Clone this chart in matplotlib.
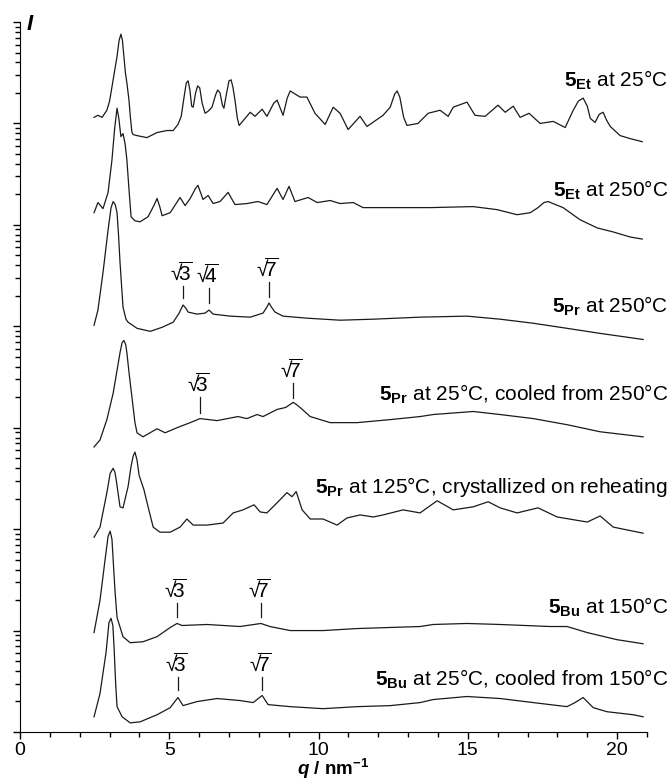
import numpy as np
import matplotlib
matplotlib.use('Agg')
import matplotlib.pyplot as plt
from matplotlib.ticker import LogLocator, NullFormatter, MultipleLocator

plt.rcParams['font.family'] = 'Liberation Sans'
plt.rcParams['mathtext.fontset'] = 'custom'
plt.rcParams['mathtext.rm'] = 'Liberation Sans'
plt.rcParams['mathtext.it'] = 'Liberation Sans:italic'
plt.rcParams['mathtext.bf'] = 'Liberation Sans:bold'
plt.rcParams['mathtext.bfit'] = 'Liberation Sans:italic:bold'

# q in nm^-1, intensities as log10(I) (stacked, arbitrary units)
q_et25 = [2.48, 2.61, 2.75, 2.91, 3.00, 3.08, 3.17, 3.25, 3.32, 3.38, 3.43, 3.48, 3.53, 3.58, 3.65,
          3.70, 3.75, 3.79, 3.92, 4.25, 4.59, 4.92, 5.13, 5.29, 5.40, 5.50, 5.57, 5.63, 5.69, 5.75,
          5.80, 5.88, 5.95, 6.02, 6.10, 6.20, 6.30, 6.43, 6.55, 6.62, 6.70, 6.78, 6.83, 6.92, 7.00,
          7.07, 7.13, 7.20, 7.28, 7.34, 7.71, 7.87, 8.11, 8.27, 8.50, 8.61, 8.81, 8.95, 9.05, 9.38,
          9.61, 9.88, 10.22, 10.49, 10.72, 10.99, 11.39, 11.62, 12.16, 12.40, 12.55, 12.63, 12.72,
          12.85, 12.96, 13.33, 13.67, 14.07, 14.34, 14.51, 14.97, 15.24, 15.58, 16.01, 16.25, 16.52,
          16.75, 17.05, 17.42, 17.86, 18.26, 18.53, 18.70, 18.86, 19.00, 19.10, 19.26, 19.40, 19.53,
          19.65, 19.77, 20.10, 20.44, 20.84]
logI_et25 = [6.06, 6.08, 6.06, 6.13, 6.22, 6.36, 6.52, 6.66, 6.82, 6.88, 6.82, 6.66, 6.50, 6.40, 6.23,
             6.05, 5.91, 5.89, 5.88, 5.86, 5.91, 5.93, 5.93, 5.99, 6.07, 6.27, 6.40, 6.42, 6.33, 6.17,
             6.16, 6.30, 6.37, 6.35, 6.20, 6.10, 6.12, 6.16, 6.28, 6.33, 6.30, 6.18, 6.15, 6.30, 6.42,
             6.43, 6.36, 6.23, 6.05, 5.98, 6.11, 6.07, 6.14, 6.07, 6.20, 6.23, 6.08, 6.25, 6.32, 6.26,
             6.26, 6.10, 5.99, 6.16, 6.10, 5.94, 6.07, 5.97, 6.08, 6.16, 6.29, 6.32, 6.26,
             6.06, 5.98, 6.00, 6.10, 6.13, 6.07, 6.16, 6.21, 6.08, 6.07, 6.18, 6.11, 6.17,
             6.06, 6.10, 6.00, 6.02, 5.96, 6.13, 6.22, 6.25, 6.17, 6.05, 6.01, 6.09, 6.11,
             6.03, 5.97, 5.88, 5.85, 5.82]

q_et250 = [2.48, 2.61, 2.78, 2.95, 3.08, 3.17, 3.25, 3.31, 3.38, 3.45, 3.52, 3.58, 3.65, 3.72, 3.85,
           4.02, 4.29, 4.50, 4.59, 4.68, 4.76, 5.03, 5.36, 5.53, 5.70, 5.88, 5.96, 6.13, 6.30, 6.47,
           6.70, 6.97, 7.20, 7.60, 7.97, 8.27, 8.61, 8.81, 9.01, 9.21, 9.65, 9.95, 10.39, 10.72,
           11.16, 11.49, 12.63, 13.74, 15.18, 15.98, 16.65, 17.09, 17.35, 17.55, 17.69, 17.85,
           18.19, 18.76, 19.33, 19.87, 20.44, 20.84]
logI_et250 = [5.12, 5.22, 5.16, 5.32, 5.64, 5.95, 6.15, 6.05, 5.87, 5.90, 5.80, 5.64, 5.35, 5.08, 5.04,
              5.03, 5.08, 5.20, 5.26, 5.18, 5.09, 5.12, 5.27, 5.19, 5.26, 5.36, 5.39, 5.25, 5.29, 5.21,
              5.23, 5.32, 5.20, 5.21, 5.23, 5.20, 5.36, 5.25, 5.38, 5.23, 5.27, 5.22, 5.24, 5.21,
              5.22, 5.17, 5.17, 5.17, 5.18, 5.15, 5.10, 5.12, 5.17, 5.22, 5.23, 5.21,
              5.17, 5.05, 4.97, 4.93, 4.88, 4.86]

q_pr250 = [2.48, 2.61, 2.78, 2.95, 3.05, 3.12, 3.19, 3.25, 3.30, 3.35, 3.45, 3.55, 3.62, 3.92, 4.36,
           4.76, 5.13, 5.33, 5.46, 5.55, 5.63, 5.93, 6.20, 6.33, 6.47, 7.04, 7.71, 8.14, 8.27, 8.34,
           8.42, 8.54, 8.81, 9.61, 10.72, 11.83, 13.40, 14.97, 16.08, 17.19, 18.32, 19.43, 20.87]
logI_pr250 = [4.01, 4.16, 4.53, 4.95, 5.17, 5.23, 5.20, 5.12, 4.90, 4.63, 4.19, 4.07, 4.04, 3.98, 3.95,
              3.99, 4.04, 4.13, 4.21, 4.18, 4.14, 4.12, 4.13, 4.16, 4.12, 4.10, 4.09, 4.13, 4.19, 4.23,
              4.19, 4.14, 4.10, 4.08, 4.06, 4.07, 4.09, 4.10, 4.07, 4.03, 3.98, 3.93, 3.87]

q_pr25 = [2.48, 2.68, 2.91, 3.12, 3.35, 3.42, 3.48, 3.54, 3.58, 3.66, 3.75, 3.85, 3.92, 4.12, 4.59,
          4.86, 5.26, 5.70, 6.03, 6.60, 7.30, 7.60, 7.94, 8.14, 8.61, 8.90, 9.05, 9.15, 9.25, 9.38,
          9.72, 10.39, 11.29, 12.40, 13.40, 13.84, 15.18, 16.08, 17.19, 18.32, 19.43, 20.87]
logI_pr25 = [2.81, 2.88, 3.08, 3.34, 3.74, 3.84, 3.86, 3.82, 3.74, 3.52, 3.30, 3.05, 2.95, 2.91, 2.99,
             2.95, 3.00, 3.05, 3.09, 3.07, 3.11, 3.09, 3.13, 3.11, 3.18, 3.20, 3.23, 3.25, 3.23, 3.20,
             3.11, 3.05, 3.05, 3.08, 3.11, 3.13, 3.16, 3.13, 3.09, 3.03, 2.96, 2.91]

q_pr125 = [2.48, 2.68, 2.91, 3.02, 3.12, 3.18, 3.22, 3.35, 3.45, 3.62, 3.72, 3.79, 3.85, 3.92, 3.99,
           4.15, 4.29, 4.46, 4.69, 5.03, 5.36, 5.59, 5.80, 6.26, 6.80, 7.14, 7.47, 7.84, 8.04, 8.27,
           8.61, 8.94, 9.11, 9.25, 9.45, 9.72, 10.15, 10.62, 10.95, 11.39, 11.83, 12.16, 12.83, 13.40,
           13.97, 14.51, 15.18, 15.68, 16.08, 16.65, 17.35, 17.99, 19.00, 19.43, 19.87, 20.87]
logI_pr125 = [1.92, 2.02, 2.36, 2.55, 2.60, 2.56, 2.49, 2.22, 2.21, 2.42, 2.62, 2.72, 2.76, 2.68, 2.53,
              2.39, 2.22, 2.02, 1.97, 1.97, 2.02, 2.10, 2.04, 2.04, 2.06, 2.16, 2.19, 2.24, 2.17, 2.16,
              2.26, 2.36, 2.32, 2.37, 2.19, 2.10, 2.10, 2.04, 2.11, 2.14, 2.12, 2.14, 2.19, 2.16,
              2.28, 2.19, 2.22, 2.27, 2.21, 2.16, 2.21, 2.12, 2.07, 2.13, 2.02, 1.96]

q_bu150 = [2.48, 2.68, 2.85, 2.95, 3.02, 3.08, 3.12, 3.18, 3.25, 3.45, 3.69, 4.12, 4.59, 5.03, 5.26,
           5.43, 6.26, 7.37, 8.07, 8.37, 9.05, 10.15, 11.29, 13.40, 13.84, 14.97, 16.08, 17.76,
           18.32, 19.00, 20.00, 20.87]
logI_bu150 = [0.98, 1.30, 1.70, 1.93, 1.98, 1.90, 1.70, 1.40, 1.13, 0.94, 0.88, 0.89, 0.94, 1.03, 1.07,
              1.05, 1.06, 1.04, 1.07, 1.04, 1.00, 1.00, 1.02, 1.04, 1.06, 1.07, 1.06, 1.04,
              1.04, 0.98, 0.91, 0.87]

q_bu25 = [2.48, 2.68, 2.88, 2.98, 3.05, 3.11, 3.15, 3.20, 3.25, 3.42, 3.69, 4.02, 4.59, 5.03, 5.29,
          5.46, 5.93, 6.60, 7.37, 7.81, 8.11, 8.31, 9.05, 10.15, 11.29, 12.40, 13.40, 13.84, 14.97,
          16.08, 17.19, 18.32, 18.59, 18.86, 19.20, 19.66, 20.54, 20.87]
logI_bu25 = [0.15, 0.38, 0.78, 1.08, 1.12, 1.05, 0.84, 0.50, 0.25, 0.15, 0.09, 0.10, 0.17, 0.24, 0.34,
             0.26, 0.30, 0.33, 0.31, 0.29, 0.36, 0.27, 0.25, 0.23, 0.25, 0.26, 0.29, 0.32, 0.35,
             0.33, 0.29, 0.25, 0.29, 0.34, 0.24, 0.20, 0.17, 0.15]

series_q = [q_et25, q_et250, q_pr250, q_pr25, q_pr125, q_bu150, q_bu25]
series_logI = [logI_et25, logI_et250, logI_pr250, logI_pr25, logI_pr125, logI_bu150, logI_bu25]

labels = [r'$\mathbf{5}_{\mathbf{Et}}$ at 25°C',
          r'$\mathbf{5}_{\mathbf{Et}}$ at 250°C',
          r'$\mathbf{5}_{\mathbf{Pr}}$ at 250°C',
          r'$\mathbf{5}_{\mathbf{Pr}}$ at 25°C, cooled from 250°C',
          r'$\mathbf{5}_{\mathbf{Pr}}$ at 125°C, crystallized on reheating',
          r'$\mathbf{5}_{\mathbf{Bu}}$ at 150°C',
          r'$\mathbf{5}_{\mathbf{Bu}}$ at 25°C, cooled from 150°C']
label_logI = [6.36, 5.28, 4.13, 3.27, 2.36, 1.17, 0.46]

# peak index marks: (q, lower end, upper end, text)
marks = [(5.46, 4.28, 4.40, '3'), (6.33, 4.23, 4.38, '4'), (8.34, 4.29, 4.44, '7'),
         (6.03, 3.15, 3.30, '3'), (9.15, 3.29, 3.44, '7'),
         (5.26, 1.13, 1.27, '3'), (8.07, 1.13, 1.27, '7'),
         (5.29, 0.41, 0.54, '3'), (8.11, 0.41, 0.54, '7')]

fig = plt.figure(figsize=(6.72, 7.81), dpi=100)
ax = fig.add_axes([20 / 672, 49 / 781, 627 / 672, 710 / 781])

for q, li in zip(series_q, series_logI):
    ax.plot(q, 10 ** np.array(li), color='#1a1a1a', lw=0.9)

for lab, ly in zip(labels, label_logI):
    ax.text(21.7, 10 ** ly, lab, ha='right', va='baseline', fontsize=15, clip_on=False)

for mq, lo, hi, n in marks:
    ax.plot([mq, mq], [10 ** lo, 10 ** hi], color='#1a1a1a', lw=0.9)
    ax.text(mq - 0.07, 10 ** (hi + 0.02), '$\u221a\\!\\overline{\\mathrm{%s}}$' % n,
            ha='center', va='bottom', fontsize=15)

ax.set_yscale('log')
ax.set_xlim(0, 21)
ax.set_ylim(1, 1e7)
ax.spines['top'].set_visible(False)
ax.spines['right'].set_visible(False)
ax.yaxis.set_major_locator(LogLocator(base=10, numticks=20))
ax.yaxis.set_minor_locator(LogLocator(base=10, subs=np.arange(2, 10), numticks=20))
ax.yaxis.set_major_formatter(NullFormatter())
ax.yaxis.set_minor_formatter(NullFormatter())
ax.xaxis.set_major_locator(MultipleLocator(5))
ax.xaxis.set_minor_locator(MultipleLocator(1))
ax.tick_params(axis='both', which='major', length=5, width=1, direction='out', labelsize=14, pad=2)
ax.tick_params(axis='both', which='minor', length=3.5, width=1, direction='out')
ax.set_xlabel(r'$\mathbfit{q}\ \mathbf{/\ nm^{-1}}$', fontsize=13.5, labelpad=-1)
fig.text(26 / 672, 1 - 14 / 781, r'$\mathbfit{I}$', fontsize=16, ha='left', va='top')

fig.savefig('out.png', dpi=100)
